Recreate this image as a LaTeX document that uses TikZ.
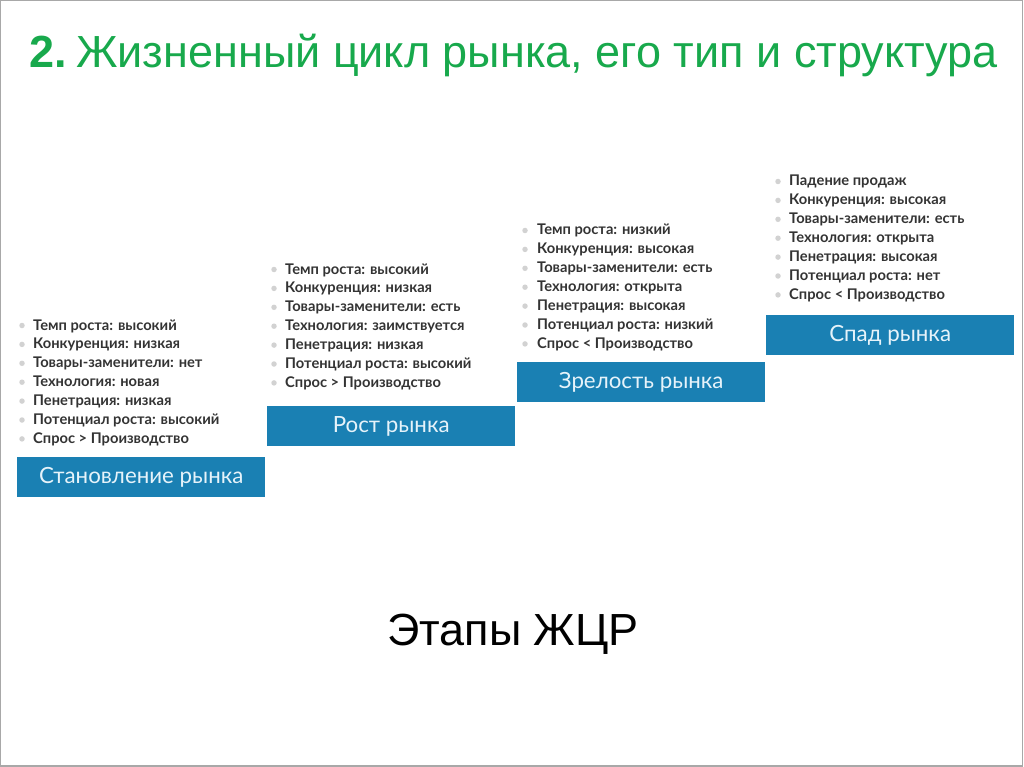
\documentclass[tikz,border=0pt]{standalone}
\usepackage{fontspec}
\setmainfont{Liberation Sans}
\newfontfamily\listfont{Lato}
\definecolor{boxblue}{HTML}{1A80B3}
\definecolor{boxtext}{HTML}{E6F3FA}
\definecolor{titlegreen}{HTML}{18A94C}
\definecolor{framegray}{HTML}{A8A8A8}
\begin{document}
\begin{tikzpicture}[x=1pt,y=-1pt,
  stage/.style={fill=boxblue, minimum width=248pt, minimum height=40pt, inner sep=0pt, text=boxtext, font=\listfont\fontsize{22.3}{22.3}\selectfont},
  item/.style={anchor=base west, inner sep=0pt, font=\listfont\bfseries\fontsize{14.7}{14.7}\selectfont, text=black!80},
  dot/.style={circle, fill=gray!35, minimum size=5.5pt, inner sep=0pt},
  ttl/.style={anchor=base west, inner sep=0pt, text=titlegreen, font=\fontsize{45}{45}\selectfont}]
\useasboundingbox (0,0) rectangle (1024,767);
\draw[framegray, line width=1.2pt] (0.6,0.6) rectangle (1022.5,766);
% title
\node[ttl] (t1) at (29,68) {\textbf{2.}};
\node[ttl] (t2) at (76,68) {Жизненный цикл рынка, его тип и структура};
% stage boxes
\node[stage, anchor=north west] (s1) at (17,457) {Становление рынка};
\node[stage, anchor=north west] (s2) at (267,406) {Рост рынка};
\node[stage, anchor=north west] (s3) at (517,362) {Зрелость рынка};
\node[stage, anchor=north west] (s4) at (766,315) {Спад рынка};
% lists
\foreach \t [count=\i] in {Темп роста: высокий, Конкуренция: низкая, Товары-заменители: нет, Технология: новая, Пенетрация: низкая, Потенциал роста: высокий, Спрос > Производство}{
  \node[dot] (a\i) at (22,{330+18.9*(\i-1)-4.5}) {};
  \node[item] (la\i) at (33,{330+18.9*(\i-1)}) {\t};
}
\foreach \t [count=\i] in {Темп роста: высокий, Конкуренция: низкая, Товары-заменители: есть, Технология: заимствуется, Пенетрация: низкая, Потенциал роста: высокий, Спрос > Производство}{
  \node[dot] (b\i) at (274,{274+18.9*(\i-1)-4.5}) {};
  \node[item] (lb\i) at (285,{274+18.9*(\i-1)}) {\t};
}
\foreach \t [count=\i] in {Темп роста: низкий, Конкуренция: высокая, Товары-заменители: есть, Технология: открыта, Пенетрация: высокая, Потенциал роста: низкий, Спрос < Производство}{
  \node[dot] (c\i) at (525,{235+18.9*(\i-1)-4.5}) {};
  \node[item] (lc\i) at (537,{235+18.9*(\i-1)}) {\t};
}
\foreach \t [count=\i] in {Падение продаж, Конкуренция: высокая, Товары-заменители: есть, Технология: открыта, Пенетрация: высокая, Потенциал роста: нет, Спрос < Производство}{
  \node[dot] (d\i) at (778,{186+18.9*(\i-1)-4.5}) {};
  \node[item] (ld\i) at (789,{186+18.9*(\i-1)}) {\t};
}
% caption
\node[anchor=base, inner sep=0pt, font=\fontsize{45}{45}\selectfont] (cap) at (513,645) {Этапы ЖЦР};
\end{tikzpicture}
\end{document}
